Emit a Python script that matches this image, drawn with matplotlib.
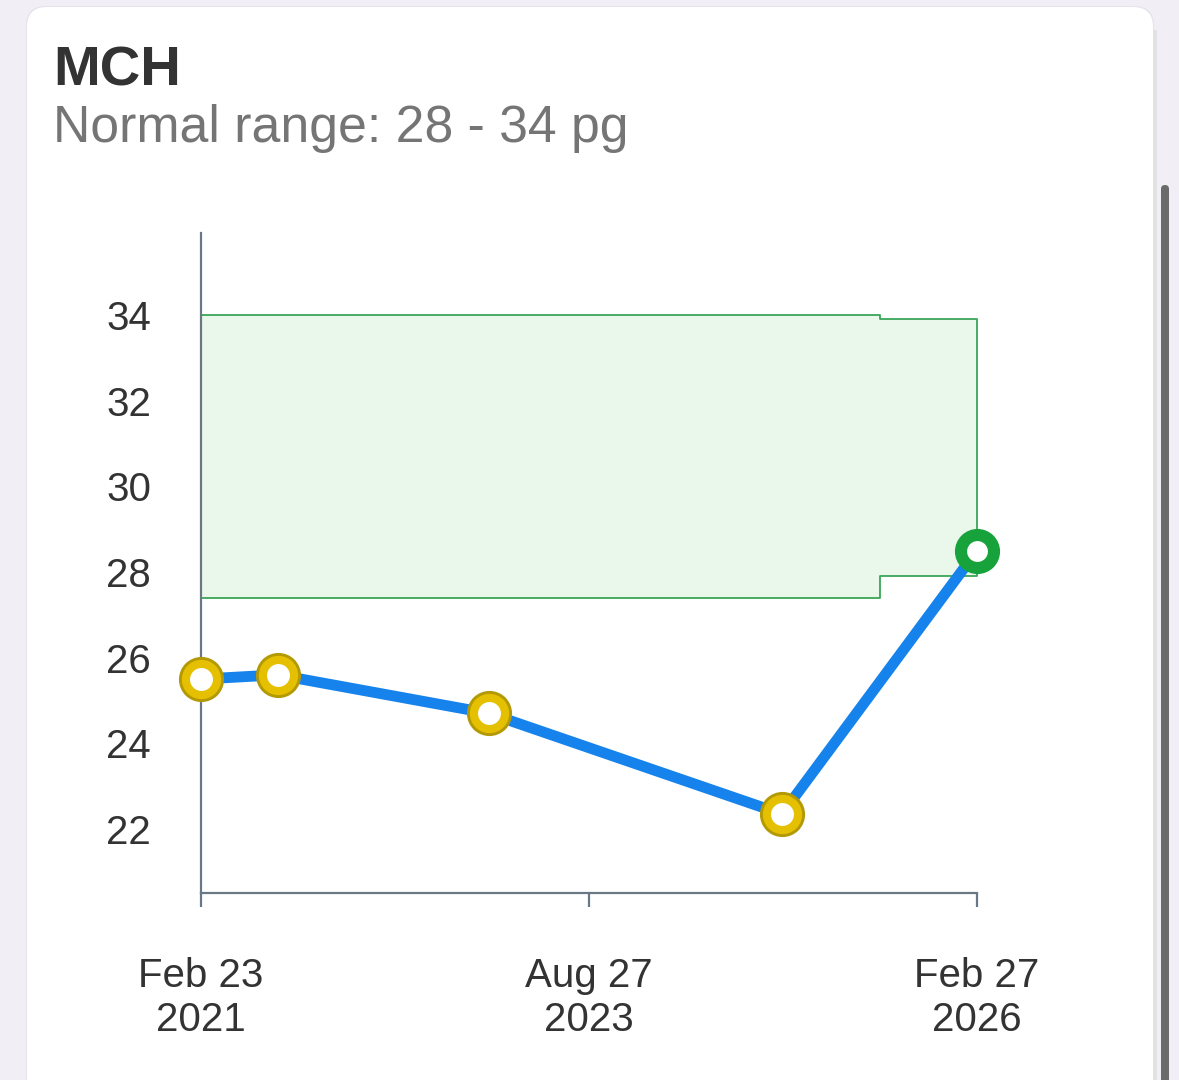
import numpy as np
import matplotlib
matplotlib.use("Agg")
import matplotlib.pyplot as plt
from matplotlib.patches import FancyBboxPatch, Rectangle

plt.rcParams['font.family'] = ['Liberation Sans', 'DejaVu Sans']

# ---- data ----
title = "MCH"
subtitle = "Normal range: 28 - 34 pg"
dates = np.array(['2021-02-23', '2021-08-23', '2023-01-03', '2024-11-24', '2026-02-27'], dtype='datetime64[D]')
values = [25.5, 25.6, 24.7, 22.35, 28.5]
in_range = [False, False, False, False, True]

band_dates = np.array(['2021-02-23', '2025-07-13', '2026-02-27'], dtype='datetime64[D]')
band_low = [27.4, 27.9, 27.9]
band_high = [34.0, 33.9, 33.9]

xtick_dates = np.array(['2021-02-23', '2023-08-27', '2026-02-27'], dtype='datetime64[D]')
xtick_labels = ["Feb 23\n2021", "Aug 27\n2023", "Feb 27\n2026"]
yticks = [22, 24, 26, 28, 30, 32, 34]

W, H = 1179, 1080
fig = plt.figure(figsize=(W / 100, H / 100), dpi=100)
fig.patch.set_facecolor('#f2eef5')

# overlay in pixel coordinates
bg = fig.add_axes([0, 0, 1, 1], zorder=0)
bg.set_xlim(0, W)
bg.set_ylim(H, 0)
bg.axis('off')
bg.patch.set_alpha(0)

# card shadow + card
bg.add_patch(FancyBboxPatch((26, 6), 1128, 1200, boxstyle="round,pad=0,rounding_size=20",
                            facecolor='#e6e2ea', edgecolor='none'))
bg.add_patch(FancyBboxPatch((27, 7), 1126, 1200, boxstyle="round,pad=0,rounding_size=20",
                            facecolor='white', edgecolor='none'))
# right card edge line and scrollbar
bg.add_patch(Rectangle((1153, 30), 4, 1100, facecolor='#e2e2e2', edgecolor='none'))
bg.add_patch(FancyBboxPatch((1161, 185), 8, 1000, boxstyle="round,pad=0,rounding_size=4",
                            facecolor='#6b6b6b', edgecolor='none'))

bg.text(53, 86, title, fontsize=40.5, fontweight='bold', color='#333333', va='baseline', ha='left')
bg.text(53, 142, subtitle, fontsize=37.3, color='#757575', va='baseline', ha='left')

# main axes
ax = fig.add_axes([201 / W, 1 - 893 / H, (977 - 201) / W, (893 - 233) / H], zorder=1)
ax.patch.set_alpha(0)

ax.fill_between(band_dates, band_low, band_high, step='post',
                facecolor='#e9f8eb', edgecolor='#3aa657', linewidth=1.3, zorder=1)

ax.plot(dates, values, color='#1683ec', linewidth=7.8, solid_capstyle='round', zorder=2)

for d, v, ok in zip(dates, values, in_range):
    if ok:
        ax.plot([d], [v], marker='o', markersize=32.5, color='#17a23b', markeredgewidth=0, zorder=3)
        ax.plot([d], [v], marker='o', markersize=15, color='white', markeredgewidth=0, zorder=4)
    else:
        ax.plot([d], [v], marker='o', markersize=32.5, color='#b39a05', markeredgewidth=0, zorder=3)
        ax.plot([d], [v], marker='o', markersize=28.3, color='#e4c000', markeredgewidth=0, zorder=3)
        ax.plot([d], [v], marker='o', markersize=16.5, color='white', markeredgewidth=0, zorder=4)

ax.set_xlim(xtick_dates[0], xtick_dates[-1])
ax.set_ylim(20.506, 35.915)

ax.set_xticks(xtick_dates)
ax.set_xticklabels(xtick_labels, fontsize=29, color='#333333', linespacing=1.2)
ax.set_yticks(yticks)
ax.set_yticklabels([str(t) for t in yticks], fontsize=29, color='#333333')

ax.tick_params(axis='y', length=0, pad=36)
ax.tick_params(axis='x', length=10, width=1.6, color='#6a7785', pad=36)

for s in ['top', 'right']:
    ax.spines[s].set_visible(False)
for s in ['left', 'bottom']:
    ax.spines[s].set_color('#6a7785')
    ax.spines[s].set_linewidth(1.6)

ax.grid(False)
for art in ax.lines + ax.collections:
    art.set_clip_on(False)

fig.savefig('out.png', dpi=100, facecolor=fig.get_facecolor())
